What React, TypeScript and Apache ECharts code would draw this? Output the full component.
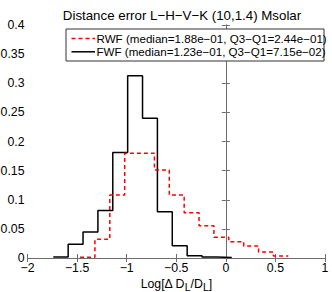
import React, { useEffect, useRef } from "react";
import * as echarts from "echarts";

const titleText = "Distance error L−H−V−K (10,1.4) Msolar";
const rwfName = "RWF (median=1.88e−01, Q3−Q1=2.44e−01)";
const fwfName = "FWF (median=1.23e−01, Q3−Q1=7.15e−02)";

const rwfEdges = [-1.47, -1.32, -1.17, -1.02, -0.87, -0.72, -0.57, -0.42, -0.27, -0.12, 0.03, 0.18, 0.33, 0.48, 0.63];
const rwfValues = [0.0012, 0.032, 0.108, 0.18, 0.18, 0.151, 0.108, 0.0776, 0.0553, 0.0358, 0.028, 0.0208, 0.0103, 0.0035];

const fwfEdges = [-1.74, -1.59, -1.44, -1.29, -1.14, -0.99, -0.84, -0.69, -0.54, -0.39, -0.24, -0.09, 0.06];
const fwfValues = [0.0017, 0.0235, 0.0447, 0.0816, 0.181, 0.313, 0.24, 0.0793, 0.021, 0.004, 0.0017, 0.0007];

const xTicks = [-2, -1.5, -1, -0.5, 0, 0.5, 1];
const yTicks = [0, 0.05, 0.1, 0.15, 0.2, 0.25, 0.3, 0.35, 0.4];

function stepData(edges: number[], values: number[]) {
  const pts: number[][] = values.map((v, i) => [edges[i], v]);
  pts.push([edges[edges.length - 1], values[values.length - 1]]);
  return pts;
}

const fmt = (v: number) => String(v).replace("-", "−");

const FONT = "Liberation Sans, Arial, Helvetica, sans-serif";
const AXIS_COLOR = "#6e6e6e";
const RED = "#ff0000";

export default function App() {
  const ref = useRef<HTMLDivElement>(null);
  useEffect(() => {
    if (!ref.current) return;
    const chart = echarts.init(ref.current, undefined, { renderer: "svg" });
    const axisCommon = {
      axisLine: { show: true, lineStyle: { color: AXIS_COLOR, width: 1 } },
      axisTick: { show: true, inside: true, length: 4, lineStyle: { color: AXIS_COLOR } },
      splitLine: { show: false },
    };
    const legendTop = 29;
    const row1 = 38.5;
    const row2 = 51.8;
    chart.setOption({
      animation: false,
      backgroundColor: "#ffffff",
      textStyle: { fontFamily: FONT },
      title: {
        text: titleText,
        left: 177,
        textAlign: "center",
        top: 4,
        textStyle: { fontSize: 13.3, fontWeight: "normal", color: "#000", fontFamily: FONT },
      },
      grid: { left: 27.5, right: 7, top: 25, bottom: 34, containLabel: false, outerBoundsMode: "none" },
      graphic: [
        {
          type: "rect",
          z: 100,
          shape: { x: 66, y: legendTop, width: 258, height: 32 },
          style: { fill: "#fff", stroke: "#333", lineWidth: 1 },
        },
        {
          type: "line",
          z: 101,
          shape: { x1: 71.5, y1: row1, x2: 95, y2: row1 },
          style: { stroke: RED, lineWidth: 1.5, lineDash: [4, 3] },
        },
        {
          type: "line",
          z: 101,
          shape: { x1: 71.5, y1: row2, x2: 95, y2: row2 },
          style: { stroke: "#000", lineWidth: 1.5 },
        },
        {
          type: "text",
          z: 101,
          x: 96.5,
          y: row1,
          style: { text: rwfName, fill: "#000", fontSize: 11.6, fontFamily: FONT, verticalAlign: "middle", align: "left" },
        },
        {
          type: "text",
          z: 101,
          x: 96.5,
          y: row2,
          style: { text: fwfName, fill: "#000", fontSize: 11.6, fontFamily: FONT, verticalAlign: "middle", align: "left" },
        },
      ],
      xAxis: [
        {
          type: "value",
          min: -2,
          max: 1,
          interval: 0.5,
          position: "bottom",
          ...axisCommon,
          axisLabel: {
            color: "#000",
            fontSize: 12.3,
            lineHeight: 9,
            margin: 5,
            fontFamily: FONT,
            customValues: xTicks,
            formatter: fmt,
          },
          name: "Log[Δ D{s|L}/D{s|L}]",
          nameLocation: "middle",
          nameGap: 6,
          nameTextStyle: {
            color: "#000",
            fontSize: 12.3,
            fontFamily: FONT,
            rich: {
              s: { fontSize: 10.5, color: "#000", fontFamily: FONT, verticalAlign: "bottom", padding: [5, 0, 0, 0] },
            },
          },
        },
        {
          type: "value",
          min: -2,
          max: 1,
          interval: 0.5,
          position: "top",
          ...axisCommon,
          axisLabel: { show: false },
        },
      ],
      yAxis: [
        {
          type: "value",
          min: 0,
          max: 0.4,
          interval: 0.05,
          position: "left",
          ...axisCommon,
          axisLabel: {
            color: "#000",
            fontSize: 12.3,
            lineHeight: 7,
            margin: 3,
            fontFamily: FONT,
            customValues: yTicks,
            formatter: fmt,
          },
        },
        {
          type: "value",
          min: 0,
          max: 0.4,
          interval: 0.05,
          position: "right",
          ...axisCommon,
          axisLabel: { show: false },
        },
      ],
      series: [
        {
          name: rwfName,
          type: "line",
          step: "end",
          symbol: "none",
          data: stepData(rwfEdges, rwfValues),
          lineStyle: { color: RED, width: 1.5, type: [4, 3] },
          itemStyle: { color: RED },
          z: 3,
        },
        {
          name: fwfName,
          type: "line",
          step: "end",
          symbol: "none",
          data: stepData(fwfEdges, fwfValues),
          lineStyle: { color: "#000000", width: 1.5, type: "solid" },
          itemStyle: { color: "#000000" },
          z: 2,
        },
      ],
    });
    return () => chart.dispose();
  }, []);
  return (
    <div
      ref={ref}
      style={{ position: "absolute", left: 0, top: 0, width: 332, height: 292 }}
    />
  );
}
